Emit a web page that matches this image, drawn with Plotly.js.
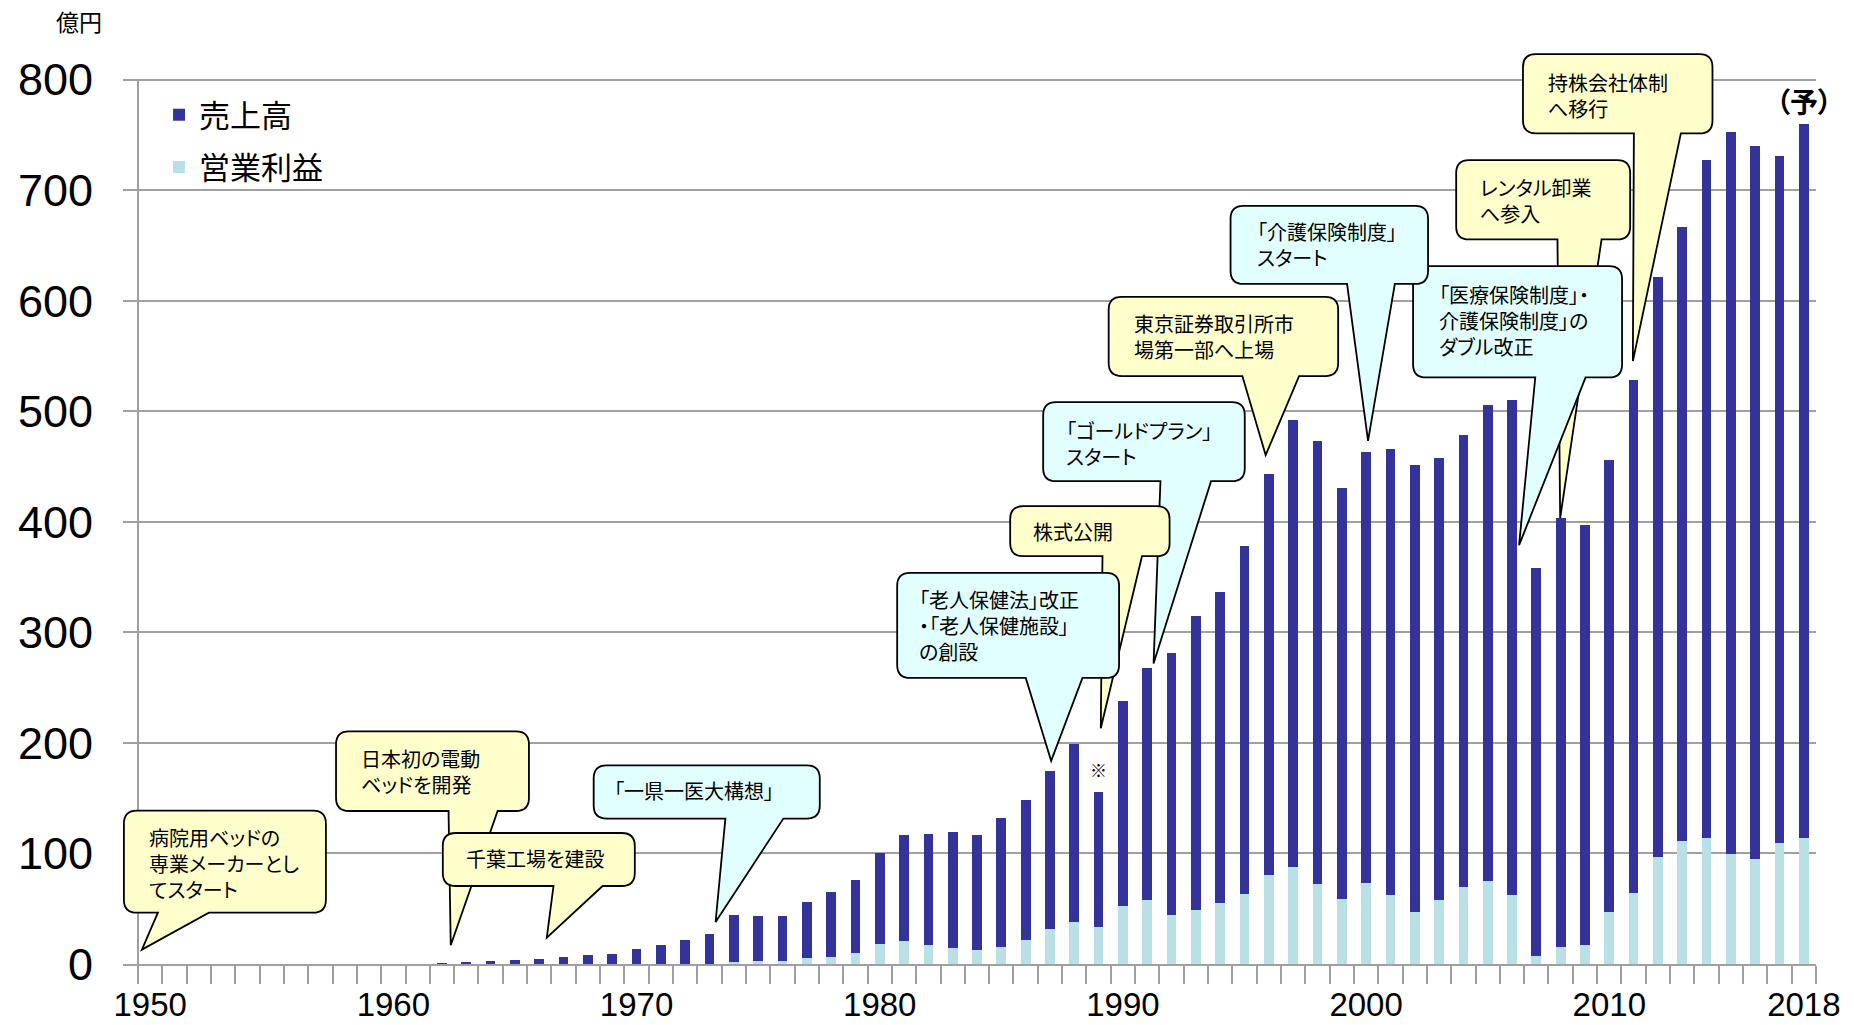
<!DOCTYPE html>
<html>
<head>
<meta charset="utf-8">
<script src="https://cdn.plot.ly/plotly-3.0.1.min.js"></script>
<style>
html,body{margin:0;padding:0;background:#fff}
#chart{width:1854px;height:1025px}
#chart text{font-feature-settings:"palt" 1;}
</style>
</head>
<body>
<div id="chart"></div>
<script>
// ---- data (億円) ----
const firstYear = 1950;
const sales = [
  // 1950-1959
  null,null,null,null,null,null,null,null,null,null,
  // 1960-1969
  null,null,1.2,1.5,2.4,3.9,4.8,6.0,7.9,9.4,
  // 1970-1979
  13.9,17.3,21.5,26.7,43.9,43.5,43.5,56.2,64.7,76.4,
  // 1980-1989
  100.6,116.3,117.5,119.6,116.3,131.7,148.0,174.6,199.4,155.9,
  // 1990-1999
  237.5,268.0,281.0,314.7,336.7,378.0,443.0,492.0,472.8,430.2,
  // 2000-2009
  463.5,465.5,451.0,457.5,478.5,506.0,510.0,358.5,403.5,397.0,
  // 2010-2018
  455.6,528.7,621.8,666.8,727.5,752.6,739.6,731.0,759.8
];
const profit = [
  // 1950-1959
  null,null,null,null,null,null,null,null,null,null,
  // 1960-1969
  null,null,null,null,null,null,null,null,null,null,
  // 1970-1979
  null,null,null,null,1.5,3.0,3.0,5.4,6.0,10.0,
  // 1980-1989
  18.0,21.0,17.5,14.8,12.7,15.7,22.0,31.7,38.4,33.2,
  // 1990-1999
  52.9,58.3,44.7,49.2,55.3,63.7,80.7,87.9,72.5,59.0,
  // 2000-2009
  73.0,62.3,47.0,58.3,70.0,75.3,62.3,7.6,15.0,17.6,
  // 2010-2018
  46.8,64.3,97.2,111.0,114.0,99.7,95.3,109.3,114.0
];
const years = sales.map((_, i) => firstYear + i);
const xTickVals = [1950, 1960, 1970, 1980, 1990, 2000, 2010, 2018];
const yTickVals = [0, 100, 200, 300, 400, 500, 600, 700, 800];
const seriesNames = ['売上高', '営業利益'];
const unitLabel = '億円';
const forecastLabel = '（予）';
const noteMark = '※';
const noteYear = 1989;

// ---- callouts: text + the point the tail aims at (year, 億円) ----
const calloutTexts = [
  ['病院用ベッドの', '専業メーカーとし', 'てスタート'],
  ['日本初の電動', 'ベッドを開発'],
  ['千葉工場を建設'],
  ['「一県一医大構想」'],
  ['「ゴールドプラン」', 'スタート'],
  ['株式公開'],
  ['「老人保健法」改正', '・「老人保健施設」', 'の創設'],
  ['東京証券取引所市', '場第一部へ上場'],
  ['レンタル卸業', 'へ参入'],
  ['「医療保険制度」・', '介護保険制度」の', 'ダブル改正'],
  ['「介護保険制度」', 'スタート'],
  ['持株会社体制', 'へ移行']
];
const calloutTipYear  = [1949.66, 1962.36, 1966.31, 1973.25, 1991.26, 1989.09, 1987.05, 1995.87, 2007.98, 2006.29, 2000.08, 2010.97];
const calloutTipValue = [13.0, 16.9, 23.9, 38.0, 271.9, 213.3, 183.7, 460.4, 403.4, 378.9, 473.3, 545.4];

// ---- callout geometry / style (pixels relative to the tail tip, y up) ----
// tx: text left, ty: first-line centre, ls: line pitch in the reference
const YELLOW = '#FFFFCC', CYAN = '#E1FFFF';
const calloutStyle = [
  {fill: YELLOW, bl: -18,   br: 184,  bt: 139,   bb: 37,    a1: 16,   a2: 67,   tx: 6,      ty: 111,   ls: 25},
  {fill: YELLOW, bl: -114.7,br: 78.2, bt: 214,   bb: 134.3, a1: -2.2, a2: 46.9, tx: -90.5,  ty: 185,   ls: 23},
  {fill: YELLOW, bl: -104,  br: 88,   bt: 104.6, bb: 51.6,  a1: 6.7,  a2: 55.8, tx: -81.5,  ty: 79,    ls: 23.5},
  {fill: CYAN,   bl: -121.9,br: 104.2,bt: 156.7, bb: 103.4, a1: 9.8,  a2: 67.8, tx: -103,   ty: 131.7, ls: 23.5},
  {fill: CYAN,   bl: -110.4,br: 91.2, bt: 261.3, bb: 182.3, a1: 6.9,  a2: 57.5, tx: -88.5,  ty: 231.6, ls: 22.5},
  {fill: YELLOW, bl: -90.6, br: 68.8, bt: 222,   bb: 172,   a1: 1.7,  a2: 41.2, tx: -68.5,  ty: 196.3, ls: 23.5},
  {fill: CYAN,   bl: -154,  br: 67.9, bt: 188,   bb: 83,    a1: -25.4,a2: 31.3, tx: -133,   ty: 159,   ls: 24},
  {fill: YELLOW, bl: -157,  br: 72.5, bt: 158.3, bb: 79,    a1: -23.3,a2: 33.4, tx: -132.5, ty: 130,   ls: 23.3},
  {fill: YELLOW, bl: -104,  br: 70,   bt: 358,   bb: 278.7, a1: -2.7, a2: 41.4, tx: -81.5,  ty: 328.7, ls: 22.5},
  {fill: CYAN,   bl: -106,  br: 103,  bt: 279,   bb: 167.7, a1: 16.2, a2: 66.5, tx: -81.5,  ty: 248.3, ls: 24},
  {fill: CYAN,   bl: -137.5,br: 60,   bt: 235,   bb: 156.9, a1: -21,  a2: 26.8, tx: -112.5, ty: 207.7, ls: 23.6},
  {fill: YELLOW, bl: -109.9,br: 79.6, bt: 307,   bb: 227.7, a1: 1,    a2: 48,   tx: -86,    ty: 277.7, ls: 23.4}
];
const CALLOUT_FONT = 20;

function bubblePath(s, r) {
  const {bl, br, bt, bb, a1, a2} = s;
  return `M${bl + r},${bt} L${br - r},${bt} Q${br},${bt} ${br},${bt - r} ` +
         `L${br},${bb + r} Q${br},${bb} ${br - r},${bb} L${a2},${bb} L0,0 L${a1},${bb} ` +
         `L${bl + r},${bb} Q${bl},${bb} ${bl},${bb + r} L${bl},${bt - r} Q${bl},${bt} ${bl + r},${bt} Z`;
}

const GRID = '#A0A0A0';
const JP = '"Noto Sans CJK JP", "Noto Sans CJK SC", sans-serif';

const traces = [
  {type: 'bar', x: years, y: sales, name: seriesNames[0], width: 0.4,
   marker: {color: '#333399', line: {width: 0}}, legendgroup: 'a', hoverinfo: 'x+y'},
  {type: 'bar', x: years, y: profit, name: seriesNames[1], width: 0.4,
   marker: {color: '#B9E0E4', line: {width: 0}}, legendgroup: 'b', hoverinfo: 'x+y'}
];

const shapes = [
  // vertical value axis line (0-800)
  {type: 'line', xref: 'x', yref: 'y', x0: 1949.5, x1: 1949.5, y0: 0, y1: 800,
   line: {color: GRID, width: 2}}
];
const annotations = [
  {xref: 'paper', yref: 'paper', x: -0.026, y: 1.0217, xanchor: 'center', yanchor: 'middle',
   showarrow: false, text: unitLabel, font: {family: JP, size: 23, color: '#000'}},
  {xref: 'x', yref: 'y', x: years[years.length - 1], y: sales[sales.length - 1],
   xanchor: 'center', yanchor: 'bottom', yshift: 1, showarrow: false,
   text: '<b>' + forecastLabel + '</b>', font: {family: JP, size: 28, color: '#000'}},
  {xref: 'x', yref: 'y', x: noteYear, y: sales[noteYear - firstYear],
   xanchor: 'center', yanchor: 'bottom', yshift: 8, showarrow: false,
   text: noteMark, font: {family: JP, size: 17, color: '#000'}}
];

calloutTexts.forEach((lines, i) => {
  const s = calloutStyle[i];
  shapes.push({
    type: 'path', xref: 'x', yref: 'y', xsizemode: 'pixel', ysizemode: 'pixel',
    xanchor: calloutTipYear[i], yanchor: calloutTipValue[i],
    path: bubblePath(s, 13), fillcolor: s.fill, line: {color: '#000', width: 1.8}, layer: 'above'
  });
  annotations.push({
    xref: 'x', yref: 'y', x: calloutTipYear[i], y: calloutTipValue[i],
    xanchor: 'left', yanchor: 'middle', xshift: s.tx, yshift: s.ty - (lines.length - 1) * s.ls / 2,
    align: 'left', showarrow: false, borderpad: 0, text: lines.join('<br>'),
    font: {family: JP, size: CALLOUT_FONT, color: '#000'}
  });
});

const layout = {
  width: 1854, height: 1025,
  margin: {l: 123, r: 38, t: 41, b: 61},
  paper_bgcolor: '#fff', plot_bgcolor: '#fff',
  barmode: 'overlay', bargap: 0,
  showlegend: true,
  legend: {x: 0.0213, y: 0.949, xanchor: 'left', yanchor: 'top', bgcolor: 'rgba(0,0,0,0)',
           font: {family: JP, size: 31, color: '#000'}, traceorder: 'grouped', tracegroupgap: 9},
  xaxis: {
    range: [1948.883, 2018.5], tickmode: 'array', tickvals: xTickVals,
    ticks: '', showgrid: false, zeroline: false,
    showline: true, linecolor: GRID, linewidth: 2,
    tickfont: {family: '"Liberation Sans Narrow", "Arial Narrow", "Liberation Sans", Arial, sans-serif', size: 33, color: '#000'},
    ticklabelstandoff: 10,
    minor: {ticks: 'outside', ticklen: 18, tickwidth: 2, tickcolor: GRID, tickmode: 'linear', tick0: 1949.5, dtick: 1, showgrid: false},
    fixedrange: true
  },
  yaxis: {
    range: [0, 835], tickmode: 'array', tickvals: yTickVals,
    ticks: '', showgrid: true, gridcolor: GRID, gridwidth: 2, zeroline: false, showline: false,
    tickfont: {family: '"Liberation Sans", Arial, sans-serif', size: 45, color: '#000'},
    ticklabelstandoff: 29, fixedrange: true
  },
  shapes: shapes,
  annotations: annotations
};

Plotly.newPlot('chart', traces, layout, {displayModeBar: false, staticPlot: true});
</script>
</body>
</html>
